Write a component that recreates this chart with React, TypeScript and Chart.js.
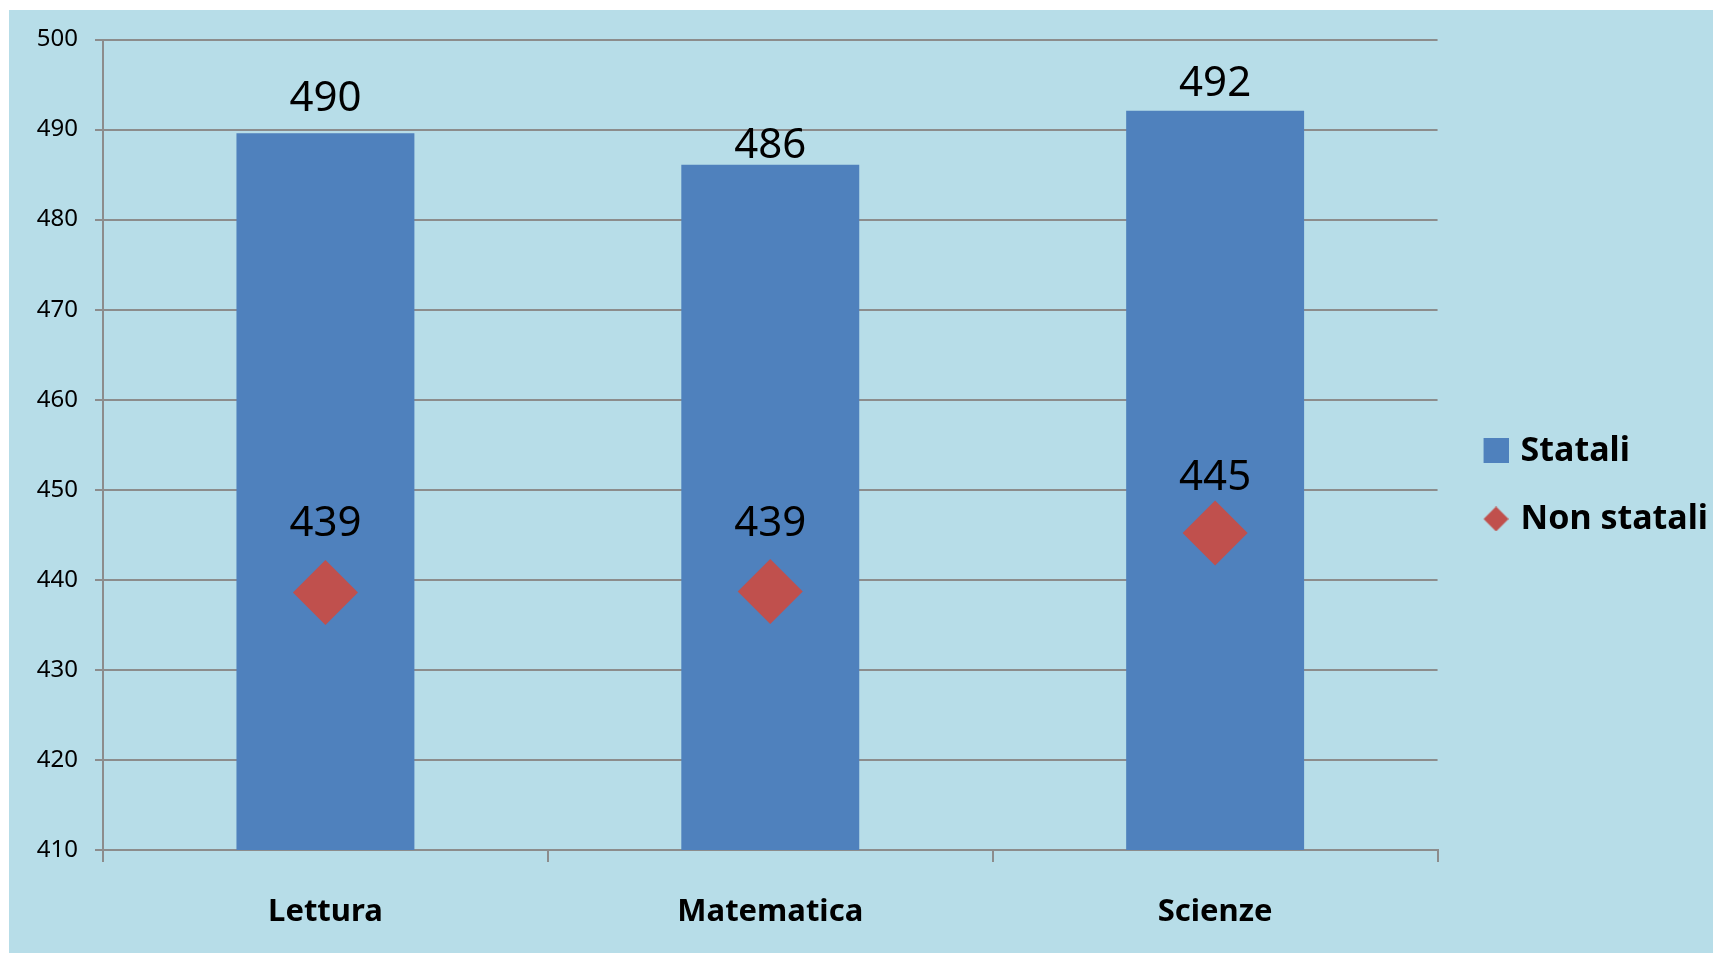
import React, { useEffect, useRef } from "react";
import { Chart, registerables } from "chart.js";

Chart.register(...registerables);

const categories = ["Lettura", "Matematica", "Scienze"];
const statali = [489.6, 486.1, 492.1];
const nonStatali = [438.6, 438.7, 445.2];
const seriesNames = ["Statali", "Non statali"];
const yTicks = { min: 410, max: 500, step: 10 };

const BG = "#B7DDE8";
const BLUE = "#4F81BD";
const RED = "#C0504D";
const GRID = "#8C8C8C";
const W = 1712;
const H = 943;

function makeLegendIcon(kind: "square" | "diamond", color: string) {
  const c = document.createElement("canvas");
  c.width = 42;
  c.height = 25;
  const ctx = c.getContext("2d")!;
  ctx.fillStyle = color;
  if (kind === "square") {
    ctx.fillRect(17, 0, 25, 25);
  } else {
    ctx.beginPath();
    ctx.moveTo(29.5, 0);
    ctx.lineTo(42, 12.5);
    ctx.lineTo(29.5, 25);
    ctx.lineTo(17, 12.5);
    ctx.closePath();
    ctx.fill();
  }
  return c;
}

const valueLabels = {
  id: "valueLabels",
  afterDatasetsDraw(chart: any, _args: any, opts: any) {
    const ctx = chart.ctx;
    ctx.save();
    ctx.font = "42px 'Noto Sans'";
    ctx.fillStyle = "#000";
    ctx.textAlign = "center";
    ctx.textBaseline = "alphabetic";
    chart.data.datasets.forEach((ds: any, di: number) => {
      const meta = chart.getDatasetMeta(di);
      const offs: number[] = opts.offsets[di];
      meta.data.forEach((el: any, i: number) => {
        const v = ds.data[i];
        const cy = el.y - offs[i];
        ctx.fillText(String(Math.round(v)), el.x, cy + 14);
      });
    });
    ctx.restore();
  },
};

export default function App() {
  const ref = useRef<HTMLCanvasElement>(null);
  useEffect(() => {
    const canvas = ref.current!;
    const icons = [makeLegendIcon("square", BLUE), makeLegendIcon("diamond", RED)];
    const chart = new Chart(canvas, {
      type: "bar",
      data: {
        labels: categories,
        datasets: [
          {
            type: "bar",
            label: seriesNames[0],
            data: statali,
            backgroundColor: BLUE,
            borderWidth: 0,
            barPercentage: 0.4,
            categoryPercentage: 1,
            order: 1,
          },
          {
            type: "line",
            label: seriesNames[1],
            data: nonStatali,
            showLine: false,
            pointStyle: "rectRot",
            pointRadius: 32.5,
            pointHoverRadius: 32.5,
            pointBackgroundColor: RED,
            backgroundColor: RED,
            borderColor: RED,
            pointBorderWidth: 0,
            order: 0,
          } as any,
        ],
      },
      options: {
        responsive: false,
        animation: false,
        devicePixelRatio: 1,
        events: [],
        layout: { autoPadding: false, padding: { top: 29.5, bottom: 25, left: 0, right: 3 } },
        scales: {
          x: {
            grid: {
              offset: true,
              drawOnChartArea: false,
              drawTicks: true,
              tickLength: 12,
              color: GRID,
              lineWidth: 2,
            },
            border: { display: true, color: GRID, width: 2 },
            ticks: {
              color: "#000",
              padding: 32,
              font: { family: "'Noto Sans'", size: 31, weight: "bold" },
            },
            afterFit(scale: any) {
              scale.height = 78;
              scale.paddingLeft = 0;
              scale.paddingRight = 0;
            },
          },
          y: {
            min: yTicks.min,
            max: yTicks.max,
            grid: { color: GRID, lineWidth: 2, tickLength: 8, drawTicks: true },
            border: { display: true, color: GRID, width: 2 },
            ticks: {
              stepSize: yTicks.step,
              color: "#000",
              padding: 17,
              font: { family: "'Noto Sans'", size: 24 },
            },
            afterFit(scale: any) {
              scale.width = 94;
              scale.paddingTop = 0;
              scale.paddingBottom = 0;
            },
          },
        },
        plugins: {
          tooltip: { enabled: false },
          legend: {
            display: true,
            position: "right",
            align: "center",
            maxWidth: 284,
            title: { display: true, text: " ", padding: 0.6, font: { size: 1 } },
            labels: {
              usePointStyle: true,
              pointStyleWidth: 32,
              padding: 34,
              color: "#000",
              font: { family: "'Noto Sans'", size: 34, weight: "bold" },
              generateLabels: () =>
                seriesNames.map((name, i) => ({
                  text: name,
                  pointStyle: icons[i],
                  fillStyle: i === 0 ? BLUE : RED,
                  strokeStyle: "transparent",
                  lineWidth: 0,
                  hidden: false,
                  datasetIndex: i,
                  fontColor: "#000",
                })),
            },
          },
          valueLabels: { offsets: [[36, 20.5, 29], [70, 70, 57]] },
        } as any,
      },
      plugins: [valueLabels],
    });
    return () => chart.destroy();
  }, []);
  return (
    <div style={{ marginTop: 2, marginLeft: 1 }}>
      <canvas
        ref={ref}
        width={W}
        height={H}
        style={{ display: "block", width: W, height: H, background: BG }}
      />
    </div>
  );
}
